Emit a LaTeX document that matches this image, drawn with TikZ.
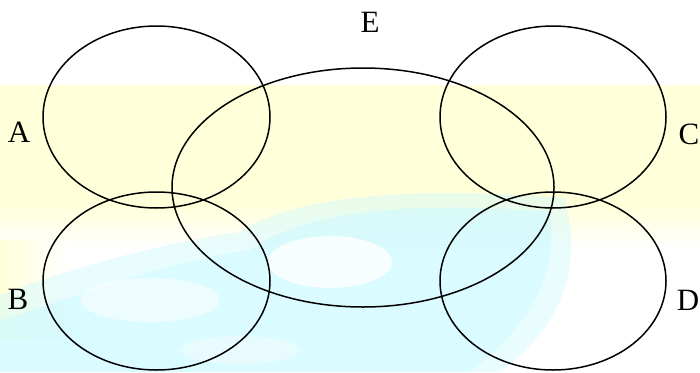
\documentclass[tikz,border=0pt]{standalone}
\usepackage{fontspec}
\setmainfont{Liberation Serif}
\usetikzlibrary{shapes.geometric,backgrounds}
\definecolor{paleyellow}{HTML}{FFFFDA}
\definecolor{palecyan}{HTML}{CFFAFF}

\begin{document}
\begin{tikzpicture}[
  x=1pt, y=-1pt,
  ring/.style={draw=black, line width=1.5pt, ellipse, inner sep=0pt},
  setlabel/.style={font=\fontsize{31}{36}\selectfont, inner sep=0pt}
]
\useasboundingbox (0,0) rectangle (700,372);

% sets
\node[ring, minimum width=227, minimum height=182] (setA) at (156.5,117) {};
\node[ring, minimum width=227, minimum height=178] (setB) at (156.5,281) {};
\node[ring, minimum width=226, minimum height=182] (setC) at (553,117) {};
\node[ring, minimum width=226, minimum height=178] (setD) at (553,281) {};
\node[ring, minimum width=382, minimum height=239] (setE) at (363,187.5) {};

\node[setlabel] (labA) at (19,132) {A};
\node[setlabel] (labB) at (18,299) {B};
\node[setlabel] (labC) at (689,134) {C};
\node[setlabel] (labD) at (688,300) {D};
\node[setlabel] (labE) at (370,22) {E};

\begin{scope}[on background layer]
  \fill[paleyellow] (0,85) rectangle (700,205);
  \shade[top color=paleyellow, bottom color=white] (0,204) rectangle (700,250);
  \shade[left color=paleyellow, right color=white] (0,240) rectangle (70,340);
  % soft sky patches
  \fill[palecyan, fill opacity=0.45]
    (0,295) .. controls (60,272) and (150,245) .. (240,232)
    .. controls (290,198) and (400,185) .. (565,198)
    .. controls (580,260) and (570,320) .. (500,372)
    -- (0,372) -- cycle;
  \fill[palecyan, fill opacity=0.6]
    (0,320) .. controls (70,300) and (160,262) .. (250,250)
    .. controls (300,212) and (410,200) .. (550,212)
    .. controls (556,260) and (545,315) .. (470,372)
    -- (0,372) -- cycle;
  \fill[white, fill opacity=0.8] (330,262) ellipse (62 and 26);
  \fill[white, fill opacity=0.5] (150,300) ellipse (70 and 22);
  \fill[white, fill opacity=0.4] (240,350) ellipse (60 and 14);
\end{scope}
\end{tikzpicture}
\end{document}
